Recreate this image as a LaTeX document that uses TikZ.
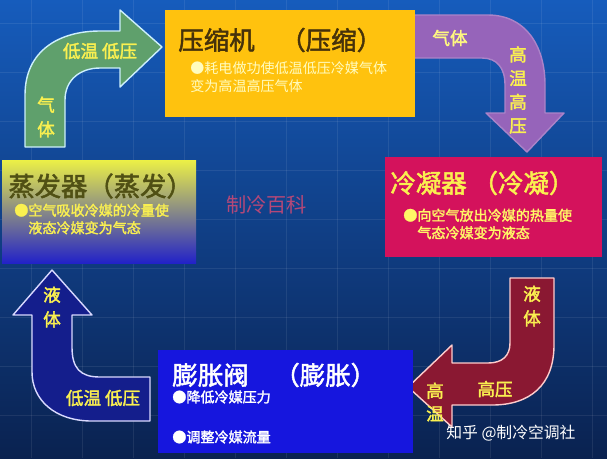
\documentclass[tikz,border=0pt]{standalone}
\usepackage{fontspec}
\setmainfont{Noto Sans CJK SC}
\newfontfamily\heavy{Noto Sans CJK SC}[FakeBold=2]
\usepackage{tikz}
\definecolor{bgtop}{RGB}{22,92,188}
\definecolor{bgmid}{RGB}{16,74,160}
\definecolor{bgbot}{RGB}{10,34,80}
\definecolor{compyel}{RGB}{255,194,14}
\definecolor{condred}{RGB}{212,18,92}
\definecolor{expblue}{RGB}{22,22,222}
\definecolor{evapyel}{RGB}{236,240,70}
\definecolor{evapblue}{RGB}{34,34,200}
\definecolor{arrgreen}{RGB}{95,160,108}
\definecolor{arrpurple}{RGB}{150,100,186}
\definecolor{arrred}{RGB}{138,24,50}
\definecolor{arrblue}{RGB}{20,30,140}
\definecolor{labyel}{RGB}{250,240,80}
\definecolor{markred}{RGB}{180,72,120}
\definecolor{comptext}{RGB}{70,50,10}
\definecolor{evaptext}{RGB}{80,80,20}
\tikzstyle{every node}=[inner sep=0pt,anchor=west]
\tikzstyle{box}=[draw=none]
\tikzstyle{title}=[font=\heavy\fontsize{14.5}{16}\selectfont]
\tikzstyle{bullet}=[font=\fontsize{8}{10}\selectfont,align=left]
\tikzstyle{fatarrow}=[line width=0.8pt,line join=round]
\tikzstyle{lab}=[font=\heavy\fontsize{10}{12.5}\selectfont,text=labyel,anchor=center,align=center]

\begin{document}
\begin{tikzpicture}[x=0.02cm,y=-0.02cm]
  \useasboundingbox (0,0) rectangle (607,458);
  % background
  \shade[top color=bgtop,middle color=bgmid,bottom color=bgbot] (0,0) rectangle (607,458);
  \foreach \gx in {31,82,...,607}
    \draw[white,opacity=0.08] (\gx,0) -- (\gx,458);
  \foreach \gy in {23,72,...,458}
    \draw[white,opacity=0.08] (0,\gy) -- (607,\gy);

  % arrows
  \draw[fatarrow,fill=arrgreen,draw=cyan!20] (25,147) -- (25,95)
    .. controls (25,50) and (60,31) .. (100,31) -- (120,31) -- (120,10)
    -- (162,47) -- (120,87) -- (120,68) -- (100,68)
    .. controls (80,68) and (65,80) .. (65,100) -- (65,147) -- cycle;
  \draw[fatarrow,fill=arrpurple,draw=arrpurple!80!white] (413,15) -- (488,15)
    .. controls (525,15) and (545,45) .. (545,85) -- (545,113) -- (564,113)
    -- (527,152) -- (486,113) -- (505,113) -- (505,85)
    .. controls (505,68) and (497,58) .. (482,58) -- (413,58) -- cycle;
  \draw[fatarrow,fill=arrred,draw=red!20] (510,278) -- (554,278) -- (554,345)
    .. controls (554,385) and (530,405) .. (492,405) -- (452,405) -- (452,427)
    -- (408,387) -- (452,345) -- (452,363) -- (488,363)
    .. controls (502,363) and (510,356) .. (510,343) -- cycle;
  \draw[fatarrow,fill=arrblue,draw=blue!15] (52,270) -- (92,315) -- (72,315)
    -- (72,347) .. controls (72,368) and (80,377) .. (100,377) -- (150,377)
    -- (150,421) -- (92,421) .. controls (55,421) and (32,400) .. (32,372)
    -- (32,315) -- (13,315) -- cycle;

  % boxes
  \fill[box,compyel] (165,10) rectangle (415,117);
  \fill[box,condred] (385,157) rectangle (602,257);
  \fill[box,expblue] (158,350) rectangle (413,453);
  \shade[box,top color=evapyel,middle color=evapyel!55!evapblue,bottom color=evapblue,
    shading angle=0] (2,160) rectangle (196,263);

  % box texts
  \node[title,text=comptext] (compT) at (178,40) {压缩机　（压缩）};
  \node[bullet,text=yellow!25] (compB) at (190,77) {●耗电做功使低温低压冷媒气体\\变为高温高压气体};
  \node[title,text=labyel] (condT) at (390,183) {冷凝器 （冷凝）};
  \node[bullet,text=yellow!60,font=\heavy\fontsize{8}{10}\selectfont] (condB) at (403,224) {●向空气放出冷媒的热量使\\\phantom{●}气态冷媒变为液态};
  \node[title,text=white] (expT) at (172,375) {膨胀阀　（膨胀）};
  \node[bullet,text=white,font=\heavy\fontsize{8}{10}\selectfont] (expB1) at (172,397) {●降低冷媒压力};
  \node[bullet,text=white,font=\heavy\fontsize{8}{10}\selectfont] (expB2) at (172,437) {●调整冷媒流量};
  \node[title,text=evaptext,font=\heavy\fontsize{15}{17}\selectfont] (evapT) at (8,186) {蒸发器（蒸发）};
  \node[bullet,text=labyel,font=\heavy\fontsize{8}{10}\selectfont] (evapB) at (14,219) {●空气吸收冷媒的冷量使\\\phantom{●}液态冷媒变为气态};
  \node[text=markred,font=\fontsize{11.5}{13}\selectfont] (mark) at (226,205) {制冷百科};

  % arrow labels
  \node[lab] (gLow) at (100,51) {低温 低压};
  \node[lab,font=\heavy\fontsize{10}{14}\selectfont] (gGas) at (46,117) {气\\体};
  \node[lab,text=yellow!50] (pGas) at (450,38) {气体};
  \node[lab,font=\heavy\fontsize{10}{13.5}\selectfont] (pHigh) at (518,90) {高\\温\\高\\压};
  \node[lab,font=\heavy\fontsize{10}{14}\selectfont] (rLiq) at (532,306) {液\\体};
  \node[lab] (rHigh) at (495,389) {高压};
  \node[lab,font=\heavy\fontsize{10}{13}\selectfont] (rHot) at (435,402) {高\\温};
  \node[lab,font=\heavy\fontsize{10}{14}\selectfont] (bLiq) at (52,307) {液\\体};
  \node[lab] (bLow) at (103,398) {低温 低压};
  \node[text=white,font=\fontsize{9}{11}\selectfont] (zhihu) at (446,433) {知乎 @制冷空调社};
\end{tikzpicture}
\end{document}
